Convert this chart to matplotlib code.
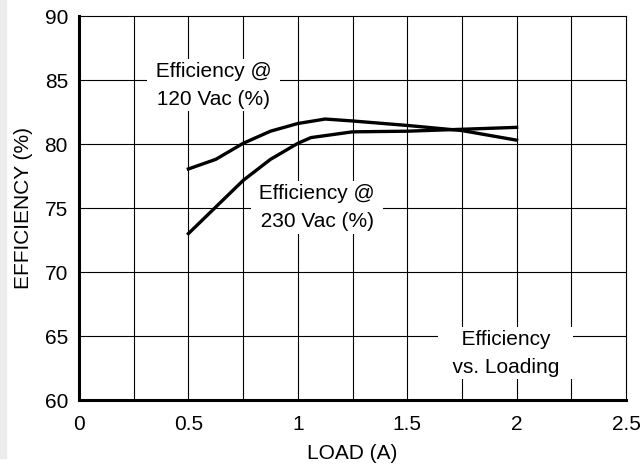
import matplotlib
matplotlib.use("Agg")
from matplotlib import pyplot as plt
from matplotlib.patches import Rectangle

plt.rcParams['font.family'] = ['Liberation Sans', 'DejaVu Sans']

# load (A) and efficiency (%)
load_120 = [0.5, 0.625, 0.75, 0.875, 1.0, 1.125, 1.25, 1.5, 1.75, 2.0]
eff_120 = [78.05, 78.8, 80.05, 81.0, 81.6, 81.95, 81.8, 81.45, 81.05, 80.3]

load_230 = [0.5, 0.75, 0.875, 1.0, 1.06, 1.25, 1.5, 1.75, 2.0]
eff_230 = [73.0, 77.15, 78.8, 80.05, 80.5, 80.95, 81.0, 81.15, 81.3]

x_ticks = [0, 0.5, 1, 1.5, 2, 2.5]
x_tick_labels = ["0", "0.5", "1", "1.5", "2", "2.5"]
y_ticks = [60, 65, 70, 75, 80, 85, 90]

fig = plt.figure(figsize=(6.44, 4.75), dpi=100)
ax = fig.add_axes([79 / 644, 1 - 400 / 475, 547 / 644, 384 / 475])

# thin grey strip on the left edge of the scan
fig.patches.append(Rectangle((0, 1 - 458 / 475), 6 / 644, 458 / 475,
                             transform=fig.transFigure, color='#ececec', zorder=0))

# grid every 0.25 A and every 5 %
for xv in [0.25 * i for i in range(1, 10)]:
    ax.axvline(xv, color='black', lw=0.8, zorder=1)
for yv in y_ticks[1:-1]:
    ax.axhline(yv, color='black', lw=0.8, zorder=1)

ax.plot(load_120, eff_120, color='black', lw=2.4, zorder=3)
ax.plot(load_230, eff_230, color='black', lw=2.4, zorder=3)

box = dict(facecolor='white', edgecolor='none', pad=2)
ax.text(0.615, 84.6, " Efficiency @ \n 120 Vac (%) ", ha='center', va='center',
        fontsize=15, linespacing=1.6, bbox=box, zorder=2)
ax.text(1.088, 75.05, " Efficiency @ \n 230 Vac (%) ", ha='center', va='center',
        fontsize=15, linespacing=1.6, bbox=box, zorder=2)
ax.text(1.95, 63.65, "  Efficiency  \n  vs. Loading  ", ha='center', va='center',
        fontsize=15, linespacing=1.6, bbox=box, zorder=2)

ax.set_xlim(0, 2.5)
ax.set_ylim(60, 90)
ax.set_xticks(x_ticks)
ax.set_xticklabels(x_tick_labels)
ax.set_yticks(y_ticks)
ax.tick_params(length=0, labelsize=15)
ax.tick_params(axis='y', pad=8)
ax.tick_params(axis='x', pad=11)

for side in ['top', 'right']:
    ax.spines[side].set_linewidth(0.8)
for side in ['left', 'bottom']:
    ax.spines[side].set_linewidth(2.2)

ax.set_xlabel("LOAD (A)", fontsize=15, labelpad=7)
ax.set_ylabel("EFFICIENCY (%)", fontsize=15, labelpad=8)

fig.savefig("out.png", dpi=100)
